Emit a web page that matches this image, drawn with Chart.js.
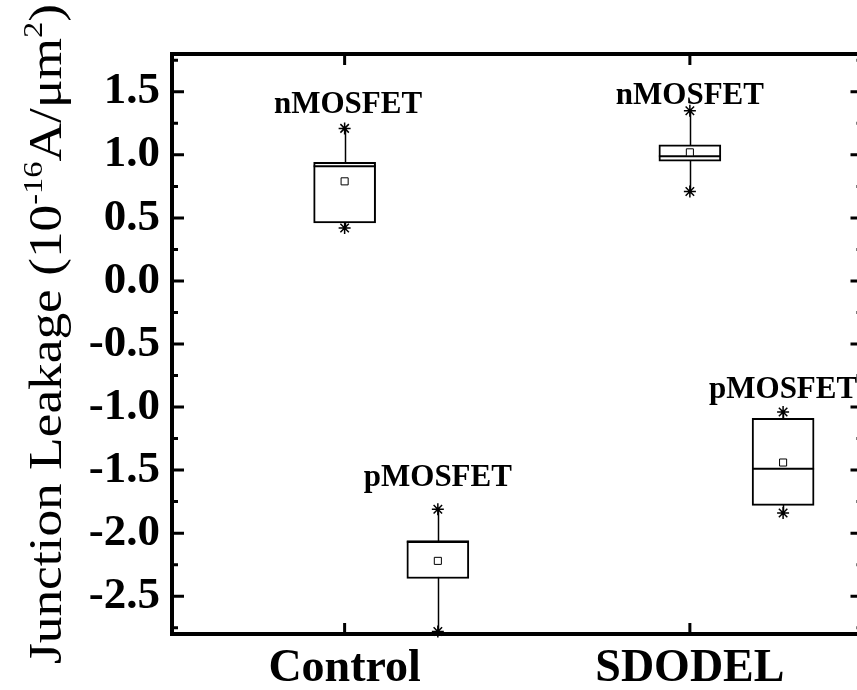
<!DOCTYPE html>
<html>
<head>
<meta charset="utf-8">
<style>
  html, body { margin: 0; padding: 0; background: #fff; overflow: hidden; }
  #wrap { width: 870px; height: 690px; position: relative; }
</style>
<script src="https://cdn.jsdelivr.net/npm/chart.js@4/dist/chart.umd.min.js"></script>
</head>
<body>
<div id="wrap"><canvas id="c"></canvas></div>
<script>
// Wafer splits on the x axis, device type as the two box series
const categories = ['Control', 'SDODEL'];
const devices = ['nMOSFET', 'pMOSFET'];

// nMOSFET junction leakage statistics (10^-16 A/um^2), one value per split
const nMax    = [1.21, 1.35];
const nQ3     = [0.94, 1.08];
const nMedian = [0.91, 0.99];
const nQ1     = [0.46, 0.95];
const nMin    = [0.42, 0.71];
const nMean   = [0.79, 1.02];

// pMOSFET junction leakage statistics
const pMax    = [-1.81, -1.04];
const pQ3     = [-2.06, -1.09];
const pMedian = [-2.07, -1.49];
const pQ1     = [-2.36, -1.78];
const pMin    = [-2.78, -1.84];
const pMean   = [-2.22, -1.44];

// Y axis tick labels
const yTicks = [-2.5, -2.0, -1.5, -1.0, -0.5, 0.0, 0.5, 1.0, 1.5];

// ---- layout / style ----
const SERIF = "'Times New Roman', 'Liberation Serif', serif";
const deviceOffset = [0, 0.27];          // horizontal shift of each device's box within a split
const labelAnchor = [                     // text anchors for the device labels [x shift, y value]
  [[0.01, 1.335], [0.0, 1.405]],          // nMOSFET: Control, SDODEL
  [[0.27, -1.63], [0.27, -0.93]]          // pMOSFET: Control, SDODEL
];

const stats = [
  { max: nMax, q3: nQ3, med: nMedian, q1: nQ1, min: nMin, mean: nMean },
  { max: pMax, q3: pQ3, med: pMedian, q1: pQ1, min: pMin, mean: pMean }
];

// One entry per box
const boxes = [];
stats.forEach((s, d) => {
  categories.forEach((cat, c) => {
    boxes.push({
      x: c + 1 + deviceOffset[d], device: d, cat: c,
      max: s.max[c], q3: s.q3[c], med: s.med[c], q1: s.q1[c], min: s.min[c], mean: s.mean[c]
    });
  });
});

const boxData   = boxes.map(b => ({ x: b.x, y: [b.q1, b.q3] }));
const extremes  = boxes.flatMap(b => [{ x: b.x, y: b.max }, { x: b.x, y: b.min }]);
const meanData  = boxes.map(b => ({ x: b.x, y: b.mean }));

// whiskers behind boxes, medians over boxes
const boxParts = {
  id: 'boxParts',
  beforeDatasetsDraw(chart) {
    const { ctx, scales: { x, y } } = chart;
    ctx.save();
    ctx.strokeStyle = '#000';
    ctx.lineWidth = 1.5;
    boxes.forEach(b => {
      const px = Math.round(x.getPixelForValue(b.x)) + 0.5;
      ctx.beginPath();
      ctx.moveTo(px, y.getPixelForValue(b.max));
      ctx.lineTo(px, y.getPixelForValue(b.min));
      ctx.stroke();
    });
    ctx.restore();
  },
  afterDatasetDraw(chart, args) {
    if (args.index !== 0) return;
    const { ctx, scales: { x, y } } = chart;
    ctx.save();
    ctx.strokeStyle = '#000';
    ctx.lineWidth = 2;
    boxes.forEach(b => {
      const px = x.getPixelForValue(b.x);
      const py = y.getPixelForValue(b.med);
      ctx.beginPath();
      ctx.moveTo(px - 31, py);
      ctx.lineTo(px + 31, py);
      ctx.stroke();
    });
    ctx.restore();
  }
};

// closed frame with inward tick marks, device labels and the rotated axis title
const frame = {
  id: 'frame',
  afterDraw(chart) {
    const { ctx, chartArea: a, scales: { x, y } } = chart;
    ctx.save();
    ctx.strokeStyle = '#000';
    ctx.lineWidth = 4;
    ctx.strokeRect(a.left, a.top, a.right - a.left, a.bottom - a.top);

    ctx.lineWidth = 3;
    for (let k = -11; k <= 7; k++) {
      const v = k * 0.25;
      const len = (k % 2 === 0) ? 12 : 6;
      const py = y.getPixelForValue(v);
      ctx.beginPath();
      ctx.moveTo(a.left, py); ctx.lineTo(a.left + len, py);
      ctx.moveTo(a.right, py); ctx.lineTo(a.right - len, py);
      ctx.stroke();
    }
    categories.forEach((c, i) => {
      const px = x.getPixelForValue(i + 1);
      ctx.beginPath();
      ctx.moveTo(px, a.bottom); ctx.lineTo(px, a.bottom - 11);
      ctx.moveTo(px, a.top); ctx.lineTo(px, a.top + 11);
      ctx.stroke();
    });

    // device labels
    ctx.fillStyle = '#000';
    ctx.font = 'bold 31px ' + SERIF;
    ctx.textAlign = 'center';
    ctx.textBaseline = 'alphabetic';
    devices.forEach((name, d) => {
      categories.forEach((c, ci) => {
        const [dx, vy] = labelAnchor[d][ci];
        ctx.fillText(name, x.getPixelForValue(ci + 1 + dx), y.getPixelForValue(vy));
      });
    });

    // y axis title with superscripts, set in a condensed tall face
    const big = '46px ' + SERIF, small = '28px ' + SERIF;
    const parts = [
      ['Junction Leakage (10', big, 0],
      ['-16', small, -19],
      ['A/\u03BCm', big, 0],
      ['2', small, -19],
      [')', big, 0]
    ];
    let total = 0;
    parts.forEach(p => { ctx.font = p[1]; total += ctx.measureText(p[0]).width; });
    ctx.translate(61, 334);
    ctx.rotate(-Math.PI / 2);
    ctx.scale(1.16, 1);
    ctx.textAlign = 'left';
    let cx = -total / 2;
    parts.forEach(p => {
      ctx.font = p[1];
      ctx.fillText(p[0], cx, p[2]);
      cx += ctx.measureText(p[0]).width;
    });
    ctx.restore();
  }
};

new Chart(document.getElementById('c'), {
  type: 'bar',
  data: {
    datasets: [
      {
        type: 'bar',
        data: boxData,
        backgroundColor: '#fff',
        borderColor: '#000',
        borderWidth: 2,
        borderSkipped: false,
        barThickness: 62,
        order: 3
      },
      {
        type: 'scatter',
        data: extremes,
        pointStyle: 'star',
        radius: 6,
        borderColor: '#000',
        borderWidth: 1.5,
        backgroundColor: '#000',
        clip: false,
        order: 2
      },
      {
        type: 'scatter',
        data: meanData,
        pointStyle: 'rect',
        radius: 5,
        borderColor: '#000',
        borderWidth: 1,
        backgroundColor: '#fff',
        clip: false,
        order: 1
      }
    ]
  },
  options: {
    responsive: true,
    maintainAspectRatio: false,
    animation: false,
    events: [],
    layout: { padding: { top: 54, right: 7, left: 0, bottom: 0 } },
    plugins: { legend: { display: false }, tooltip: { enabled: false } },
    scales: {
      x: {
        type: 'linear',
        min: 0.5,
        max: 2.5,
        offset: false,
        afterBuildTicks: s => { s.ticks = categories.map((c, i) => ({ value: i + 1 })); },
        afterFit: s => { s.height = 56; },
        ticks: {
          callback: v => categories[v - 1],
          color: '#000',
          font: { family: SERIF, size: 46, weight: 'bold' },
          padding: 8,
          maxRotation: 0,
          autoSkip: false
        },
        grid: { display: false, drawTicks: false },
        border: { display: false }
      },
      y: {
        min: -2.8,
        max: 1.8,
        afterBuildTicks: s => { s.ticks = yTicks.map(v => ({ value: v })); },
        afterFit: s => { s.width = 172; },
        ticks: {
          callback: v => v.toFixed(1),
          color: '#000',
          font: { family: SERIF, size: 45, weight: 'bold' },
          padding: 12
        },
        grid: { display: false, drawTicks: false },
        border: { display: false }
      }
    }
  },
  plugins: [boxParts, frame]
});
</script>
</body>
</html>
